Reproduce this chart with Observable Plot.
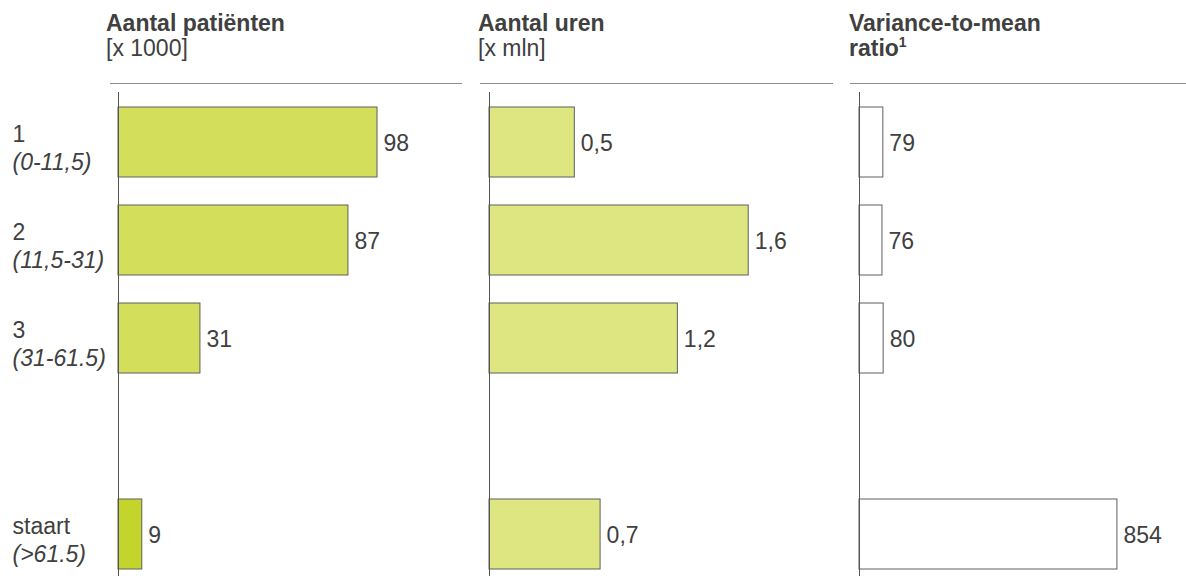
<!DOCTYPE html>
<html><head><meta charset="utf-8">
<script src="https://cdn.jsdelivr.net/npm/d3@7"></script>
<script src="https://cdn.jsdelivr.net/npm/@observablehq/plot@0.6"></script>
<style>
body{margin:0;background:#fff;font-family:"Liberation Sans",Arial,sans-serif;color:#404040}
#chart{position:relative;width:1186px;height:576px;overflow:hidden;background:#fff}
.hdr{position:absolute;top:11px;font-size:23px;line-height:25px;color:#404040;white-space:nowrap}
.hdr .t{font-weight:bold}
.hdr sup{font-size:14px;line-height:0;vertical-align:9px}
.rule{position:absolute;top:83px;height:0;border-top:1.5px solid #8c8c8c}
.panel{position:absolute;top:84px}
</style></head><body><div id="chart"></div>
<script>
// ---- data ----
const categories = ["1", "2", "3", "staart"];
const ranges = ["(0-11,5)", "(11,5-31)", "(31-61.5)", "(>61.5)"];
const patients = [98, 87, 31, 9];        // x 1000
const hours = [0.53, 1.61, 1.17, 0.69];   // x mln
const vmr = [79, 76, 80, 854];           // variance-to-mean ratio
const titles = ["Aantal patiënten", "Aantal uren", "Variance-to-mean"];
const subtitles = ["[x 1000]", "[x mln]", "ratio"];

// ---- layout ----
const chart = document.getElementById("chart");
const yDomain = ["1", "2", "3", " ", "staart"];
const txt = "#404040";
const font = "Liberation Sans, Arial, sans-serif";
const fs = 23;

const panels = [
  {values: patients, left: 0, width: 465, ml: 118, pxPerUnit: 2.643, fmt: d3.format("d"),
   fill: c => c === "staart" ? "#c3d52d" : "#d3df5b", hdrLeft: 106, rule: [110, 462], ylabels: true},
  {values: hours, left: 370, width: 465, ml: 119, pxPerUnit: 161, fmt: v => d3.format(".1f")(v).replace(".", ","),
   fill: () => "#dde680", hdrLeft: 478, rule: [480, 833], ylabels: false},
  {values: vmr, left: 740, width: 446, ml: 119, pxPerUnit: 0.302, fmt: d3.format("d"),
   fill: () => "#ffffff", hdrLeft: 849, rule: [850, 1186], ylabels: false, sup: "1"}
];

panels.forEach((p, i) => {
  // header
  const h = document.createElement("div");
  h.className = "hdr";
  h.style.left = p.hdrLeft + "px";
  const t = document.createElement("div");
  t.className = "t";
  t.textContent = titles[i];
  const s = document.createElement("div");
  if (i === 2) {
    s.className = "t";
    s.innerHTML = subtitles[i] + "<sup>" + p.sup + "</sup>";
  } else {
    s.textContent = subtitles[i];
  }
  h.appendChild(t); h.appendChild(s);
  chart.appendChild(h);
  const r = document.createElement("div");
  r.className = "rule";
  r.style.left = p.rule[0] + "px";
  r.style.width = (p.rule[1] - p.rule[0]) + "px";
  chart.appendChild(r);

  const rows = categories.map((c, k) => ({cat: c, range: ranges[k], v: p.values[k]}));
  const innerW = p.width - p.ml;
  const marks = [
    Plot.barX(rows, {x: "v", y: "cat", fill: d => p.fill(d.cat), stroke: "#5f5f5f", strokeWidth: 1}),
    Plot.ruleX([0], {stroke: "#555", strokeWidth: 1}),
    Plot.text(rows, {x: "v", y: "cat", text: d => p.fmt(d.v), textAnchor: "start", dx: 6, dy: 1,
      fill: txt, fontSize: fs})
  ];
  if (p.ylabels) {
    marks.push(
      Plot.text(rows, {y: "cat", text: "cat", frameAnchor: "left", textAnchor: "start", dx: -106, dy: -8,
        fill: txt, fontSize: fs}),
      Plot.text(rows, {y: "cat", text: "range", frameAnchor: "left", textAnchor: "start", dx: -106, dy: 20,
        fill: txt, fontSize: fs, fontStyle: "italic"})
    );
  }
  const svg = Plot.plot({
    width: p.width,
    height: 492,
    marginTop: 8,
    marginBottom: 0,
    marginLeft: p.ml,
    marginRight: 0,
    style: {fontFamily: font, fontSize: fs + "px", color: txt, background: "transparent", overflow: "visible"},
    x: {domain: [0, innerW / p.pxPerUnit], axis: null},
    y: {domain: yDomain, range: [22, 486], paddingInner: 0.2893, paddingOuter: 0, axis: null},
    marks
  });
  const wrap = document.createElement("div");
  wrap.className = "panel";
  wrap.style.left = p.left + "px";
  wrap.appendChild(svg);
  chart.appendChild(wrap);
});
</script>
</body></html>
